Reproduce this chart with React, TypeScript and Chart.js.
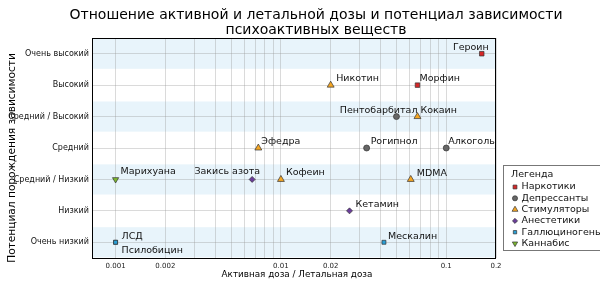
import React, { useEffect, useRef } from 'react';
import { Chart, registerables } from 'chart.js';

Chart.register(...registerables);

// ---------- data ----------
const levels = [
  'Очень высокий',
  'Высокий',
  'Средний / Высокий',
  'Средний',
  'Средний / Низкий',
  'Низкий',
  'Очень низкий',
];
const classes = ['Наркотики', 'Депрессанты', 'Стимуляторы', 'Анестетики', 'Галлюциногены', 'Каннабис'];
const substances = [
  'Героин', 'Морфин', 'Никотин', 'Пентобарбитал', 'Кокаин', 'Рогипнол', 'Алкоголь', 'Эфедра',
  'Марихуана', 'Закись азота', 'Кофеин', 'MDMA', 'Кетамин', 'ЛСД', 'Псилобицин', 'Мескалин',
];
const ratios = [0.164, 0.067, 0.02, 0.05, 0.067, 0.033, 0.1, 0.0073, 0.001, 0.0067, 0.01, 0.061, 0.026, 0.001, 0.001, 0.042];
const dependence = [
  'Очень высокий', 'Высокий', 'Высокий', 'Средний / Высокий', 'Средний / Высокий', 'Средний', 'Средний', 'Средний',
  'Средний / Низкий', 'Средний / Низкий', 'Средний / Низкий', 'Средний / Низкий', 'Низкий', 'Очень низкий', 'Очень низкий', 'Очень низкий',
];
const substanceClass = [
  'Наркотики', 'Наркотики', 'Стимуляторы', 'Депрессанты', 'Стимуляторы', 'Депрессанты', 'Депрессанты', 'Стимуляторы',
  'Каннабис', 'Анестетики', 'Стимуляторы', 'Стимуляторы', 'Анестетики', 'Галлюциногены', 'Галлюциногены', 'Галлюциногены',
];
const xTickLabels = [0.001, 0.002, 0.01, 0.02, 0.1, 0.2];
const xMin = 0.00072;
const xMax = 0.2;

const titleLines = ['Отношение активной и летальной дозы и потенциал зависимости', 'психоактивных веществ'];
const xTitle = 'Активная доза / Летальная доза';
const yTitle = 'Потенциал порождения зависимости';
const legendTitle = 'Легенда';

// ---------- styles ----------
const FONT = '"DejaVu Sans", "Noto Sans", sans-serif';
const classStyle: Record<string, { color: string; shape: string; r: number; rot: number }> = {
  'Наркотики': { color: '#d62728', shape: 'rect', r: 3.2, rot: 0 },
  'Депрессанты': { color: '#666666', shape: 'circle', r: 3, rot: 0 },
  'Стимуляторы': { color: '#f5a623', shape: 'triangle', r: 4, rot: 0 },
  'Анестетики': { color: '#6a3d9a', shape: 'rectRot', r: 3, rot: 0 },
  'Галлюциногены': { color: '#2a9fd6', shape: 'rect', r: 2.8, rot: 0 },
  'Каннабис': { color: '#7cb82f', shape: 'triangle', r: 3.6, rot: 180 },
};
const EDGE = '#333333';

// label offsets [dx, dy(baseline), align]
const labelOffset: Record<string, [number, number, CanvasTextAlign]> = {
  'Героин': [7, -4, 'right'],
  'Морфин': [2, -4, 'left'],
  'Никотин': [5.5, -4, 'left'],
  'Пентобарбитал': [21, -4, 'right'],
  'Кокаин': [3, -4, 'left'],
  'Рогипнол': [4, -4, 'left'],
  'Алкоголь': [2, -4, 'left'],
  'Эфедра': [3, -4, 'left'],
  'Марихуана': [5, -5, 'left'],
  'Закись азота': [8, -5, 'right'],
  'Кофеин': [5, -4.5, 'left'],
  'MDMA': [6, -3, 'left'],
  'Кетамин': [6, -4, 'left'],
  'Мескалин': [4, -3, 'left'],
  'ЛСД': [6, -3, 'left'],
  'Псилобицин': [6, 11, 'left'],
};

function drawMarker(ctx: CanvasRenderingContext2D, shape: string, x: number, y: number, r: number, rot: number, fill: string) {
  ctx.save();
  ctx.beginPath();
  if (shape === 'circle') {
    ctx.arc(x, y, r, 0, Math.PI * 2);
  } else if (shape === 'rect') {
    const s = Math.SQRT1_2 * r;
    ctx.rect(x - s, y - s, 2 * s, 2 * s);
  } else if (shape === 'rectRot') {
    ctx.moveTo(x, y - r);
    ctx.lineTo(x + r, y);
    ctx.lineTo(x, y + r);
    ctx.lineTo(x - r, y);
    ctx.closePath();
  } else if (shape === 'triangle') {
    let a = (rot * Math.PI) / 180;
    ctx.moveTo(x + Math.sin(a) * r, y - Math.cos(a) * r);
    a += (2 * Math.PI) / 3;
    ctx.lineTo(x + Math.sin(a) * r, y - Math.cos(a) * r);
    a += (2 * Math.PI) / 3;
    ctx.lineTo(x + Math.sin(a) * r, y - Math.cos(a) * r);
    ctx.closePath();
  }
  ctx.fillStyle = fill;
  ctx.fill();
  ctx.lineWidth = 0.7;
  ctx.strokeStyle = EDGE;
  ctx.stroke();
  ctx.restore();
}

const decorPlugin = {
  id: 'decor',
  beforeDraw(chart: any) {
    const { ctx, chartArea, scales } = chart;
    ctx.save();
    ctx.fillStyle = '#ffffff';
    ctx.fillRect(0, 0, chart.width, chart.height);
    ctx.fillStyle = '#e8f4fb';
    levels.forEach((_, i) => {
      if (i % 2 === 0) {
        const y1 = scales.y.getPixelForValue(i - 0.48);
        const y2 = scales.y.getPixelForValue(i + 0.48);
        ctx.fillRect(chartArea.left, Math.min(y1, y2), chartArea.right - chartArea.left, Math.abs(y2 - y1));
      }
    });
    ctx.restore();
  },
  afterDatasetsDraw(chart: any) {
    const { ctx, scales } = chart;
    ctx.save();
    ctx.font = `9.5px ${FONT}`;
    ctx.fillStyle = '#111111';
    ctx.textBaseline = 'alphabetic';
    substances.forEach((name, i) => {
      const px = scales.x.getPixelForValue(ratios[i]);
      const py = scales.y.getPixelForValue(levels.indexOf(dependence[i]));
      const [dx, dy, align] = labelOffset[name] || [5, -4, 'left'];
      ctx.textAlign = align;
      ctx.fillText(name, px + dx, py + dy);
    });
    ctx.restore();
  },
  afterDraw(chart: any) {
    const { ctx, chartArea } = chart;
    ctx.save();
    // frame
    ctx.strokeStyle = '#000000';
    ctx.lineWidth = 1;
    ctx.strokeRect(chartArea.left + 0.5, chartArea.top + 0.5, chartArea.right - chartArea.left - 1, chartArea.bottom - chartArea.top);
    // title
    ctx.fillStyle = '#000000';
    ctx.textAlign = 'center';
    ctx.textBaseline = 'alphabetic';
    ctx.font = `14px ${FONT}`;
    ctx.fillText(titleLines[0], 316, 19);
    ctx.fillText(titleLines[1], 316, 33.5);
    // axis titles
    ctx.font = `8.8px ${FONT}`;
    ctx.fillText(xTitle, 297, 277);
    ctx.save();
    ctx.font = `10.6px ${FONT}`;
    ctx.translate(14.5, 158);
    ctx.rotate(-Math.PI / 2);
    ctx.fillText(yTitle, 0, 0);
    ctx.restore();
    // legend
    const lx = 503.5, ly = 165.5;
    ctx.fillStyle = '#ffffff';
    ctx.fillRect(lx, ly, 110, 85);
    ctx.strokeStyle = '#777777';
    ctx.lineWidth = 1;
    ctx.strokeRect(lx, ly, 110, 85);
    ctx.fillStyle = '#111111';
    ctx.textAlign = 'left';
    ctx.textBaseline = 'middle';
    ctx.font = `9.5px ${FONT}`;
    ctx.fillText(legendTitle, 511, 175);
    classes.forEach((c, i) => {
      const y = 187 + i * 11.3;
      const st = classStyle[c];
      drawMarker(ctx, st.shape, 515, y, st.r * 0.85, st.rot, st.color);
      ctx.fillStyle = '#111111';
      ctx.fillText(c, 521.5, y);
    });
    ctx.restore();
  },
};

export default function App() {
  const ref = useRef<HTMLCanvasElement | null>(null);
  useEffect(() => {
    document.body.style.margin = '0';
    const canvas = ref.current;
    if (!canvas) return;
    const datasets = classes.map((c) => {
      const st = classStyle[c];
      const data = substances
        .map((name, i) => ({ name, i }))
        .filter((d) => substanceClass[d.i] === c)
        .map((d) => ({ x: ratios[d.i], y: levels.indexOf(dependence[d.i]) }));
      return {
        label: c,
        data,
        pointStyle: st.shape,
        pointRadius: st.r,
        pointRotation: st.rot,
        pointBackgroundColor: st.color,
        pointBorderColor: EDGE,
        pointBorderWidth: 0.7,
        showLine: false,
      };
    });
    const gridTicks: number[] = [];
    [0.001, 0.01].forEach((d) => {
      for (let k = 1; k <= 9; k++) gridTicks.push(Number((k * d).toPrecision(3)));
    });
    gridTicks.push(0.1, 0.2);

    const chart = new Chart(canvas, {
      type: 'scatter',
      data: { datasets: datasets as any },
      options: {
        animation: false,
        responsive: false,
        devicePixelRatio: 1,
        layout: { padding: { left: 0, right: 104, top: 38, bottom: 0 } },
        plugins: {
          legend: { display: false },
          title: { display: false },
          tooltip: { enabled: false },
        },
        scales: {
          x: {
            type: 'logarithmic',
            min: xMin,
            max: xMax,
            afterBuildTicks: (scale: any) => {
              scale.ticks = gridTicks.map((v) => ({ value: v }));
            },
            afterFit: (scale: any) => {
              scale.height = 29;
            },
            ticks: {
              autoSkip: false,
              maxRotation: 0,
              padding: 4,
              color: '#222222',
              font: { family: FONT, size: 7 },
              callback: (v: any) => (xTickLabels.some((t) => Math.abs(t - v) < 1e-9) ? String(v) : ''),
            },
            grid: { color: 'rgba(150,150,150,0.45)', lineWidth: 0.8, drawTicks: false },
            border: { display: false },
          },
          y: {
            type: 'linear',
            min: -0.5,
            max: 6.5,
            reverse: true,
            afterBuildTicks: (scale: any) => {
              scale.ticks = levels.map((_, i) => ({ value: i }));
            },
            afterFit: (scale: any) => {
              scale.width = 92;
            },
            ticks: {
              autoSkip: false,
              padding: 3,
              color: '#111111',
              font: { family: FONT, size: 8 },
              callback: (v: any) => levels[v] ?? '',
            },
            grid: { color: 'rgba(150,150,150,0.45)', lineWidth: 0.8, drawTicks: false },
            border: { display: false },
          },
        },
      },
      plugins: [decorPlugin],
    });
    return () => chart.destroy();
  }, []);
  return (
    <div style={{ position: 'fixed', left: 0, top: 0, width: 600, height: 287 }}>
      <canvas ref={ref} width={600} height={287} />
    </div>
  );
}
